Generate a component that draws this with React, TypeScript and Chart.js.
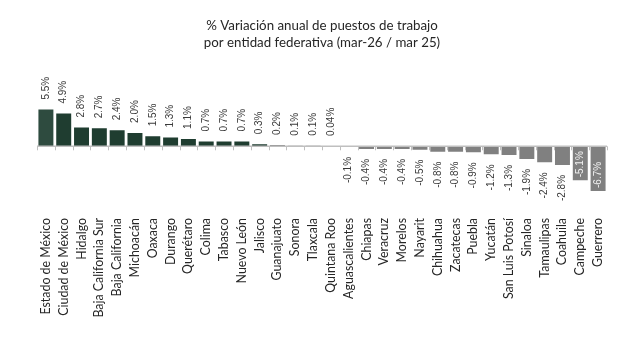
import React, { useEffect, useRef } from "react";
import { Chart, registerables } from "chart.js";

Chart.register(...registerables);

const titleLines = [
  "% Variación anual de puestos de trabajo",
  "por entidad federativa (mar-26 / mar 25)",
];

const categories = [
  "Estado de México", "Ciudad de México", "Hidalgo", "Baja California Sur",
  "Baja California", "Michoacán", "Oaxaca", "Durango", "Querétaro", "Colima",
  "Tabasco", "Nuevo León", "Jalisco", "Guanajuato", "Sonora", "Tlaxcala",
  "Quintana Roo", "Aguascalientes", "Chiapas", "Veracruz", "Morelos", "Nayarit",
  "Chihuahua", "Zacatecas", "Puebla", "Yucatán", "San Luis Potosí", "Sinaloa",
  "Tamaulipas", "Coahuila", "Campeche", "Guerrero",
];

const values = [
  5.5, 4.9, 2.8, 2.7, 2.4, 2.0, 1.5, 1.3, 1.1, 0.7, 0.7, 0.7, 0.3, 0.2, 0.1, 0.1,
  0.04, -0.1, -0.4, -0.4, -0.4, -0.5, -0.8, -0.8, -0.9, -1.2, -1.3, -1.9, -2.4,
  -2.8, -5.1, -6.7,
];

const valueLabels = [
  "5.5%", "4.9%", "2.8%", "2.7%", "2.4%", "2.0%", "1.5%", "1.3%", "1.1%", "0.7%",
  "0.7%", "0.7%", "0.3%", "0.2%", "0.1%", "0.1%", "0.04%", "-0.1%", "-0.4%",
  "-0.4%", "-0.4%", "-0.5%", "-0.8%", "-0.8%", "-0.9%", "-1.2%", "-1.3%", "-1.9%",
  "-2.4%", "-2.8%", "-5.1%", "-6.7%",
];

const GREEN = "#1f3d30";
const GREEN_FIRST = "#2e4b3f";
const GRAY = "#808080";

const barColors = values.map((v, i) =>
  i === 0 ? GREEN_FIRST : v >= 0.25 ? GREEN : GRAY
);

const baselinePlugin = {
  id: "baseline",
  afterDatasetsDraw(chart: any) {
    const { ctx, chartArea } = chart;
    const y0 = chart.scales.y.getPixelForValue(0);
    const n = categories.length;
    const w = (chartArea.right - chartArea.left) / n;
    ctx.save();
    ctx.strokeStyle = "#bfbfbf";
    ctx.lineWidth = 1.5;
    ctx.beginPath();
    ctx.moveTo(chartArea.left, y0);
    ctx.lineTo(chartArea.right, y0);
    ctx.stroke();
    ctx.lineWidth = 1;
    ctx.beginPath();
    for (let i = 0; i <= n; i++) {
      const x = Math.round(chartArea.left + i * w) + 0.5;
      ctx.moveTo(x, y0);
      ctx.lineTo(x, y0 + 4);
    }
    ctx.stroke();
    ctx.restore();
  },
};

const labelPlugin = {
  id: "valueLabels",
  afterDatasetsDraw(chart: any) {
    const { ctx } = chart;
    const meta = chart.getDatasetMeta(0);
    ctx.save();
    ctx.font = "10px 'Liberation Sans', Arial, sans-serif";
    ctx.textBaseline = "middle";
    meta.data.forEach((bar: any, i: number) => {
      const v = values[i];
      const text = valueLabels[i];
      ctx.save();
      if (v >= 0) {
        ctx.translate(bar.x, bar.y - 10);
        ctx.rotate(-Math.PI / 2);
        ctx.textAlign = "left";
        ctx.fillStyle = "#3a3a3a";
      } else if (v <= -5) {
        ctx.translate(bar.x, bar.y - 3);
        ctx.rotate(-Math.PI / 2);
        ctx.textAlign = "left";
        ctx.fillStyle = "#f2f2f2";
      } else {
        ctx.translate(bar.x, bar.y + 10);
        ctx.rotate(-Math.PI / 2);
        ctx.textAlign = "right";
        ctx.fillStyle = "#3a3a3a";
      }
      ctx.fillText(text, 0, 0);
      ctx.restore();
    });
    ctx.restore();
  },
};

export default function App() {
  const ref = useRef<HTMLCanvasElement | null>(null);
  useEffect(() => {
    if (!ref.current) return;
    const chart = new Chart(ref.current, {
      type: "bar",
      data: {
        labels: categories,
        datasets: [
          {
            data: values,
            backgroundColor: barColors,
            borderWidth: 0,
            categoryPercentage: 1,
            barPercentage: 0.84,
          },
        ],
      },
      options: {
        animation: false,
        responsive: true,
        maintainAspectRatio: false,
        layout: { padding: { left: 29, right: 18, top: 0, bottom: 0 } },
        plugins: {
          legend: { display: false },
          tooltip: { enabled: false },
          title: {
            display: true,
            text: titleLines,
            color: "#262626",
            font: { family: "Lato, 'Open Sans', sans-serif", size: 13.3, weight: "normal", lineHeight: 1.3 },
            padding: { top: 9, bottom: 26 },
          },
        },
        scales: {
          x: {
            grid: { display: false },
            border: { display: false },
            ticks: {
              autoSkip: false,
              minRotation: 90,
              maxRotation: 90,
              padding: 6,
              color: "#262626",
              font: { family: "Lato, 'Open Sans', sans-serif", size: 12.4 },
            },
            afterFit: (scale: any) => {
              scale.height = 140;
            },
          },
          y: {
            display: false,
            min: -8.65,
            max: 10.3,
          },
        },
      },
      plugins: [baselinePlugin, labelPlugin],
    });
    return () => chart.destroy();
  }, []);
  return (
    <div style={{ width: 617, height: 336, position: "relative" }}>
      <canvas ref={ref} />
    </div>
  );
}
